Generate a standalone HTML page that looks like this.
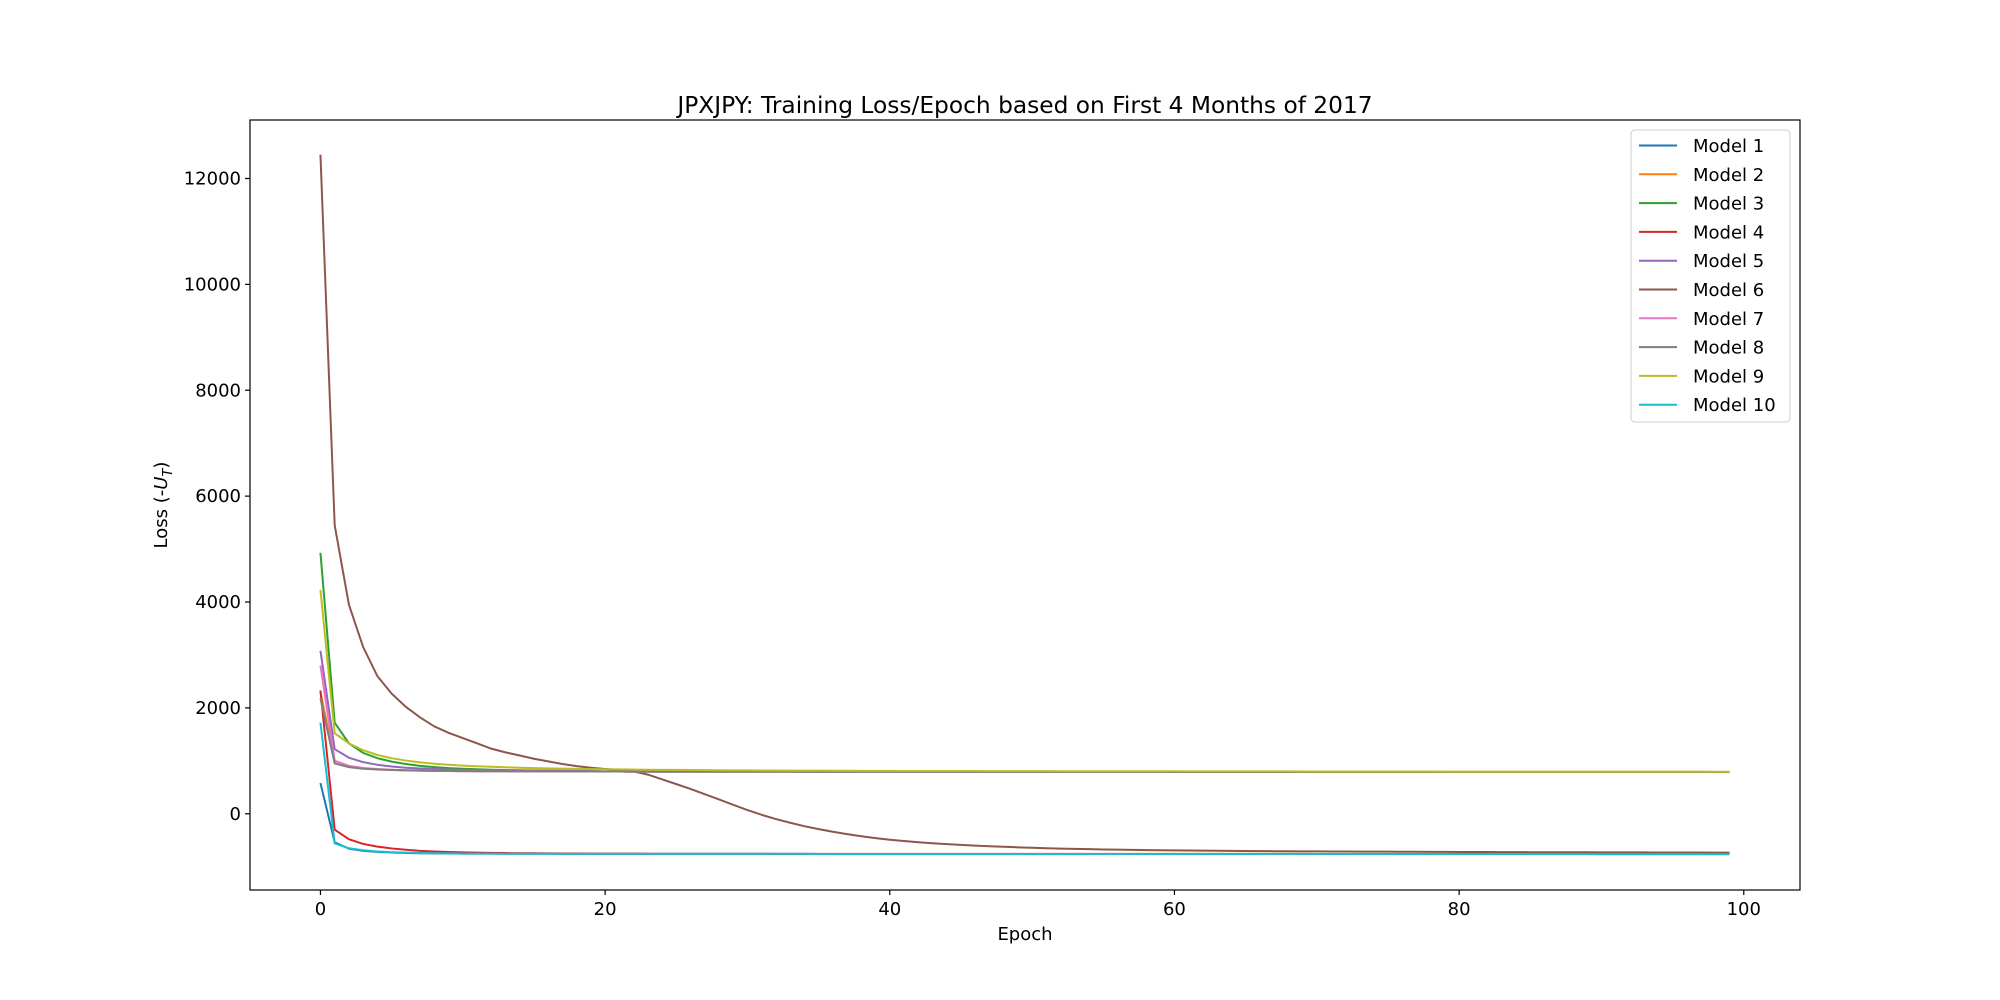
<!DOCTYPE html>
<html><head><meta charset="utf-8"><style>
html,body{margin:0;padding:0;background:#fff;}
svg{display:block;font-family:"DejaVu Sans","Liberation Sans",sans-serif;}
</style></head><body>
<svg id="chart" width="2000" height="1000" viewBox="0 0 2000 1000" xmlns="http://www.w3.org/2000/svg">
<rect width="2000" height="1000" fill="#fff"/>
<text x="1025" y="113" font-size="23.3" text-anchor="middle" fill="#000">JPXJPY: Training Loss/Epoch based on First 4 Months of 2017</text>
<g id="marks"></g>
<g id="axes"></g>
<rect x="250" y="120" width="1550" height="770" fill="none" stroke="#000" stroke-width="1.2"/>
<text x="1025" y="940" font-size="18" text-anchor="middle">Epoch</text>
<text transform="translate(167,505) rotate(-90)" font-size="18" text-anchor="middle">Loss (-<tspan font-style="italic">U</tspan><tspan font-size="13" dy="5" font-style="italic">T</tspan><tspan dy="-5">)</tspan></text>
<g id="legend"></g>
</svg>
<script>
const seriesNames=["Model 1","Model 2","Model 3","Model 4","Model 5","Model 6","Model 7","Model 8","Model 9","Model 10"];
const colors=["#1f77b4","#ff7f0e","#2ca02c","#d62728","#9467bd","#8c564b","#e377c2","#7f7f7f","#bcbd22","#17becf"];
const xTicks=[0,20,40,60,80,100];
const yTicks=[0,2000,4000,6000,8000,10000,12000];
const lowTail=[-752,-753,-754,-755,-755,-756,-756,-757,-757,-757,-758,-758,-758,-758,-758,-758,-758,-758,-758,-758,-758,-758,-758,-758,-758,-759,-759,-759,-759,-759,-759,-759,-759,-759,-759,-759,-759,-759,-759,-759,-760,-760,-760,-760,-760,-760,-760,-760,-760,-760,-760,-760,-760,-760,-760,-760,-760,-760,-760,-760,-761,-761,-761,-761,-761,-761,-761,-761,-761,-761,-761,-761,-761,-761,-761,-761,-761,-761,-761,-761,-762,-762,-762,-762,-762,-762,-762,-762,-762,-762];
const m1=[580,-540,-660,-700,-720,-732,-740,-745,-748,-750].concat(lowTail);
const m4=[2330,-300,-480,-570,-620,-655,-680,-700,-712,-722,-730,-735,-739,-742,-745,-747,-749,-750,-751,-752,-753,-754,-754,-755,-755,-755,-756,-756,-756,-756,-756,-756,-757,-757,-757,-757,-757,-757,-757,-757,-757,-757,-757,-758,-758,-758,-758,-758,-758,-758,-758,-758,-758,-758,-758,-758,-758,-758,-758,-758,-758,-758,-758,-758,-758,-758,-758,-758,-758,-758,-759,-759,-759,-759,-759,-759,-759,-759,-759,-759,-759,-759,-759,-759,-759,-759,-759,-759,-759,-759,-759,-759,-759,-759,-759,-759,-759,-759,-759,-759];
const m10=[1720,-560,-650,-690,-712,-726,-735,-741,-745,-748].concat(lowTail);
const hiTail=[798,798,797,797,797,796,796,796,796,795,795,795,795,795,794,794,794,794,794,793,793,793,793,793,793,792,792,792,792,792,792,792,791,791,791,791,791,791,791,791,790,790,790,790,790,790,790,790,790,790,790,790,790,789,789,789,789,789,789,789,789,789,789,789,789,789,789,789,789,789,788,788,788,788,788,788,788,788,788,788];
const m2=[2300,1000,900,860,840,828,820,815,811,808,806,805,804,803,802,801,800,800,799,799].concat(hiTail);
const m3=[4930,1720,1330,1150,1050,985,940,905,880,862,850,840,832,826,821,817,814,812,810,808].concat(hiTail);
const m5=[3080,1220,1060,975,925,892,870,855,845,837,831,826,822,818,815,813,811,809,807,806].concat(hiTail);
const m7=[2800,1000,905,865,845,832,823,817,812,808,806,804,803,802,801,800,800,799,799,799].concat(hiTail);
const m8=[2180,950,880,850,835,826,820,815,811,808,806,804,803,802,801,800,800,799,799,799].concat(hiTail);
const m9=[4230,1520,1330,1200,1110,1050,1005,970,945,925,910,897,887,878,870,863,857,852,848,844,841,838,835,832,830,828,826,824,822,820,819,818,817,816,815,814,813,812,811,810,810,809,809,808,808,807,807,806,806,805,805,805,804,804,804,803,803,803,802,802,802,801,801,801,801,800,800,800,800,799,799,799,799,799,798,798,798,798,798,797,797,797,797,797,797,796,796,796,796,796,796,795,795,795,795,795,795,795,794,794];
const m6=[12450,5450,3950,3150,2600,2270,2020,1820,1650,1530,1430,1330,1230,1160,1100,1040,990,940,900,870,845,825,800,740,650,560,470,370,270,170,70,-20,-100,-170,-235,-290,-340,-385,-425,-460,-490,-515,-537,-556,-573,-588,-601,-613,-624,-634,-643,-651,-658,-664,-669,-674,-678,-682,-686,-689,-692,-695,-697,-699,-701,-703,-705,-707,-708,-710,-711,-712,-713,-714,-715,-716,-717,-718,-719,-720,-721,-722,-723,-724,-725,-726,-727,-727,-728,-728,-729,-729,-730,-730,-731,-731,-732,-732,-733,-733];
const series=[m1,m2,m3,m4,m5,m6,m7,m8,m9,m10];
const NS="http://www.w3.org/2000/svg";
const X0=250,X1=1800,Y0=120,Y1=890,xmin=-4.95,xmax=103.95,ymin=-1440,ymax=13105;
function sx(v){return X0+(v-xmin)/(xmax-xmin)*(X1-X0);}
function sy(v){return Y1-(v-ymin)/(ymax-ymin)*(Y1-Y0);}
function mk(t,a){const e=document.createElementNS(NS,t);for(const k in a)e.setAttribute(k,a[k]);return e;}
const marks=document.getElementById('marks'),axes=document.getElementById('axes'),legend=document.getElementById('legend');
series.forEach((s,i)=>{
  const d=s.map((v,j)=>(j?'L':'M')+sx(j).toFixed(2)+','+sy(v).toFixed(2)).join('');
  const p=mk('path',{d:d,fill:'none',stroke:colors[i],'stroke-width':2});
  
  
  marks.appendChild(p);
});
xTicks.forEach(t=>{
  const g=mk('g',{});
  
  
  g.appendChild(mk('line',{x1:sx(t),x2:sx(t),y1:Y1,y2:Y1+5,stroke:'#000','stroke-width':1.2}));
  const tx=mk('text',{x:sx(t),y:Y1+25,'font-size':18,'text-anchor':'middle'});tx.textContent=t;g.appendChild(tx);
  axes.appendChild(g);
});
yTicks.forEach(t=>{
  const g=mk('g',{});
  
  
  g.appendChild(mk('line',{x1:X0-5,x2:X0,y1:sy(t),y2:sy(t),stroke:'#000','stroke-width':1.2}));
  const tx=mk('text',{x:X0-9,y:sy(t)+6,'font-size':18,'text-anchor':'end'});tx.textContent=t;g.appendChild(tx);
  axes.appendChild(g);
});
const box=mk('rect',{x:1631,y:130,width:159,height:292,rx:4,fill:'#fff','fill-opacity':0.8,stroke:'#ccc','stroke-width':1});


legend.appendChild(box);
seriesNames.forEach((n,i)=>{
  const y=145.5+i*28.8;
  const g=mk('g',{});
  
  
  g.appendChild(mk('line',{x1:1639,x2:1677,y1:y,y2:y,stroke:colors[i],'stroke-width':2}));
  const tx=mk('text',{x:1693,y:y+6.5,'font-size':18});tx.textContent=n;g.appendChild(tx);
  legend.appendChild(g);
});
</script>
</body></html>
